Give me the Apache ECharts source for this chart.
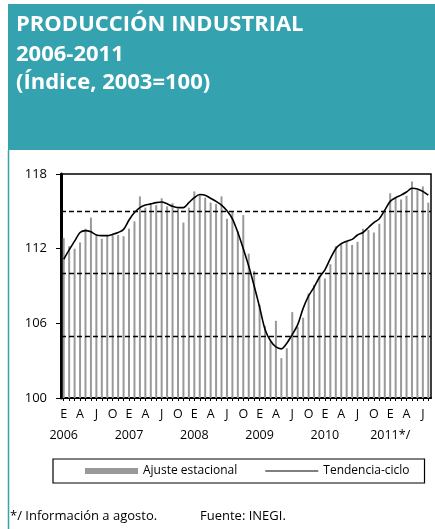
<!DOCTYPE html>
<html lang="es">
<head>
    <meta charset="UTF-8">
    <title>Producción industrial</title>
    <script src="https://cdn.jsdelivr.net/npm/echarts@6/dist/echarts.min.js"></script>
    <style>
        html, body { margin: 0; padding: 0; background: #fff; }
        #main { width: 435px; height: 529px; }
    </style>
</head>
<body>
<div id="main"></div>
<script>
    // meses (enero 2006 - agosto 2011)
    var monthLetters = ['E', 'F', 'M', 'A', 'M', 'J', 'J', 'A', 'S', 'O', 'N', 'D'];
    var yearLabels = ['2006', '2007', '2008', '2009', '2010', '2011*/'];
    var yTicks = [100, 106, 112, 118];
    var refLines = [105, 110, 115];

    // Ajuste estacional
    var ajuste = [
        112.85, 112.2, 112.0, 112.5, 113.6, 114.5, 113.05, 112.8, 113.1, 113.15, 113.1, 113.0,
        113.6, 114.2, 116.2, 115.3, 115.55, 115.5, 116.05, 115.4, 115.65, 115.2, 114.1, 115.3,
        116.6, 116.3, 116.1, 115.7, 115.6, 116.2, 114.4, 115.0, 113.4, 114.7, 111.6, 110.2,
        107.5, 105.8, 104.5, 106.2, 103.2, 104.0, 106.9, 105.7, 106.45, 108.4, 109.1, 109.8,
        109.6, 110.75, 112.2, 112.4, 112.55, 112.3, 112.55, 113.6, 113.5, 113.3, 114.0, 115.0,
        116.45, 116.1, 115.95, 116.25, 117.4, 116.7, 117.0, 115.7
    ];
    // Tendencia-ciclo
    var tendencia = [
        111.15, 111.9, 112.6, 113.3, 113.45, 113.35, 113.1, 113.05, 113.05, 113.15, 113.3, 113.55,
        114.3, 114.9, 115.3, 115.5, 115.6, 115.7, 115.75, 115.6, 115.4, 115.3, 115.3, 115.7,
        116.1, 116.35, 116.3, 116.05, 115.8, 115.5, 115.05, 114.4, 113.3, 112.0, 110.6, 109.0,
        107.3, 105.5, 104.6, 104.1, 103.95, 104.4, 105.1, 105.9, 107.2, 108.2, 108.9, 109.7,
        110.3, 111.2, 112.0, 112.4, 112.6, 112.75, 113.1, 113.3, 113.7, 114.1, 114.4, 115.1,
        115.8, 116.1, 116.3, 116.55, 116.85, 116.8, 116.6, 116.3
    ];

    var categories = [];
    for (var i = 0; i < ajuste.length; i++) {
        categories.push(monthLetters[i % 12]);
    }

    var teal = '#35a2b0';
    var font = '"Open Sans", "DejaVu Sans", sans-serif';
    // linea delgada para la leyenda (los triangulitos fijan la caja de 53x6)
    var lineIcon = 'path://M0,0L0.01,0L0.01,0.01ZM0,2.4L53,2.4L53,3.6L0,3.6ZM53,6L52.99,6L52.99,5.99Z';

    var chart = echarts.init(document.getElementById('main'));
    var option = {
        animation: false,
        textStyle: { fontFamily: font },
        grid: {
            left: 61, right: 4, top: 174, bottom: 131,
            show: true, borderColor: '#000', borderWidth: 1.5, backgroundColor: 'transparent'
        },
        legend: {
            left: 53, top: 459,
            padding: [6, 15, 6, 32],
            borderColor: '#000', borderWidth: 1.2,
            itemWidth: 53, itemHeight: 6, itemGap: 28,
            textStyle: { fontFamily: font, fontSize: 12, color: '#000' },
            data: [
                { name: 'Ajuste estacional', icon: 'rect' },
                { name: 'Tendencia-ciclo', icon: lineIcon, itemStyle: { color: '#000' } }
            ]
        },
        xAxis: [
            {
                type: 'category',
                data: categories,
                boundaryGap: true,
                axisLine: { lineStyle: { color: '#000', width: 2 } },
                axisTick: { show: true, interval: 0, alignWithLabel: true, length: 3, lineStyle: { color: '#000', width: 1 } },
                axisLabel: {
                    interval: 2,
                    showMinLabel: true,
                    hideOverlap: false,
                    margin: 10,
                    color: '#000',
                    fontSize: 12.5,
                    fontFamily: font
                }
            },
            {
                // años debajo de cada enero
                type: 'category',
                position: 'bottom',
                data: categories,
                boundaryGap: true,
                axisLine: { show: false },
                axisTick: { show: false },
                axisLabel: {
                    interval: function (index) { return index % 12 === 0; },
                    margin: 31,
                    color: '#000',
                    fontSize: 12.5,
                    fontFamily: font,
                    formatter: function (value, index) { return yearLabels[index / 12]; }
                }
            }
        ],
        yAxis: {
            type: 'value',
            min: yTicks[0], max: yTicks[yTicks.length - 1], interval: 6,
            axisLine: { show: true, lineStyle: { color: '#000', width: 3 } },
            axisTick: { show: true, length: 5, lineStyle: { color: '#000', width: 1 } },
            axisLabel: { color: '#000', fontSize: 13, margin: 14, fontFamily: font },
            splitLine: { show: false }
        },
        series: [
            {
                name: 'Ajuste estacional',
                type: 'bar',
                data: ajuste,
                barWidth: 2,
                itemStyle: { color: '#999999' },
                markLine: {
                    silent: true,
                    symbol: 'none',
                    label: { show: false },
                    lineStyle: { color: '#000', type: [5, 3], width: 1.3 },
                    data: refLines.map(function (v) { return { yAxis: v }; })
                }
            },
            {
                name: 'Tendencia-ciclo',
                type: 'line',
                data: tendencia,
                smooth: 0.3,
                symbol: 'none',
                lineStyle: { color: '#000', width: 1.6 },
                itemStyle: { color: '#000' },
                z: 5
            }
        ],
        graphic: [
            { type: 'rect', shape: { x: 8, y: 4, width: 427, height: 146 }, style: { fill: teal } },
            { type: 'line', shape: { x1: 8.5, y1: 150, x2: 8.5, y2: 529 }, style: { stroke: teal, lineWidth: 1.5 } },
            { type: 'text', x: 16, y: 25, style: { text: 'PRODUCCIÓN INDUSTRIAL', fill: '#fff', font: 'bold 22px ' + font, verticalAlign: 'middle' } },
            { type: 'text', x: 16, y: 55, style: { text: '2006-2011', fill: '#fff', font: 'bold 22px ' + font, verticalAlign: 'middle' } },
            { type: 'text', x: 16, y: 83, style: { text: '(Índice, 2003=100)', fill: '#fff', font: 'bold 22px ' + font, verticalAlign: 'middle' } },
            { type: 'text', x: 10, y: 516, style: { text: '*/ Información a agosto.', fill: '#000', font: '13px ' + font, verticalAlign: 'middle' } },
            { type: 'text', x: 200, y: 516, style: { text: 'Fuente: INEGI.', fill: '#000', font: '13px ' + font, verticalAlign: 'middle' } }
        ]
    };
    chart.setOption(option);
</script>
</body>
</html>
